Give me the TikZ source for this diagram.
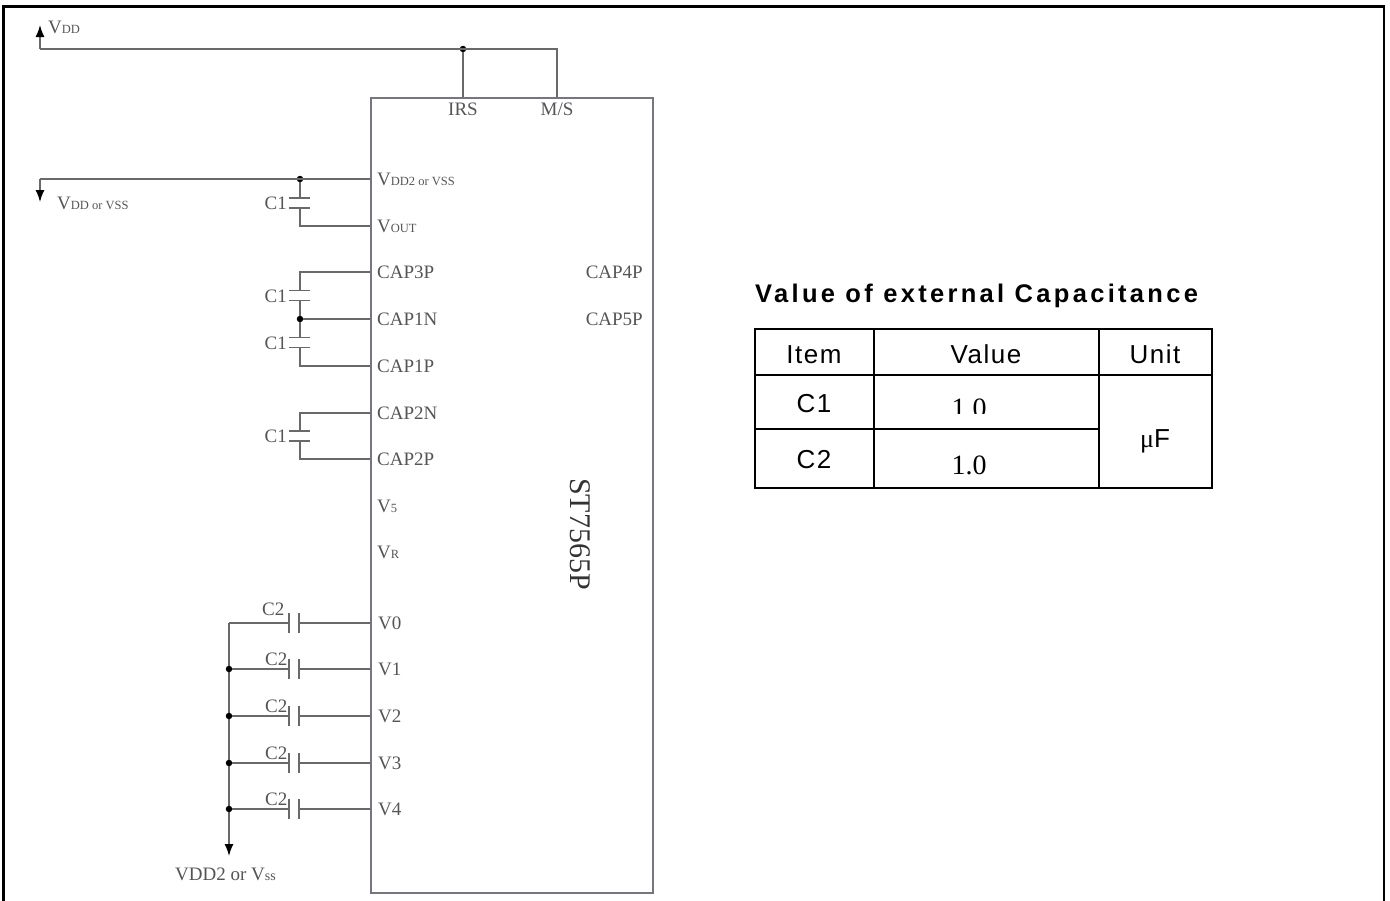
\documentclass[tikz,border=0pt]{standalone}
\usepackage{fontspec}
\setmainfont{Liberation Serif}
\newfontfamily\tabf[LetterSpace=6]{Liberation Sans}
\newfontfamily\titf[LetterSpace=13]{Liberation Sans}
\usetikzlibrary{arrows.meta}
\definecolor{wirec}{RGB}{105,105,105}
\definecolor{chipc}{RGB}{118,118,128}
\definecolor{lblc}{RGB}{85,85,85}
\newcommand\pinfont{\fontsize{19}{22}\selectfont}
\newcommand\smf[1]{{\fontsize{12.5}{14}\selectfont #1}}
\begin{document}
\begin{tikzpicture}[x=1pt,y=-1pt,
  wire/.style={draw=wirec,line width=1.5pt},
  plate/.style={draw=wirec,line width=1.8pt},
  pinl/.style={anchor=base west,text=lblc,font=\pinfont,inner sep=0pt},
  pinr/.style={anchor=base east,text=lblc,font=\pinfont,inner sep=0pt},
  dotn/.style={circle,fill=black,inner sep=0pt,minimum size=6.5pt},
  arr/.style={wire,-{Latex[length=12pt,width=9pt,color=black]}},
  tline/.style={draw=black,line width=2.5pt},
  tt/.style={anchor=base,inner sep=0pt,font=\tabf\fontsize{26}{28}\selectfont},
]
\useasboundingbox (0,0) rectangle (1390,900);
% outer frame (open at the bottom)
\draw[line width=2.5pt,line cap=rect] (3.5,910) -- (3.5,6.5) -- (1384,6.5) -- (1384,910);

% chip
\node (chip) [draw=chipc,line width=1.8pt,minimum width=282pt,minimum height=795pt,
  inner sep=0pt,anchor=north west] at (370,97) {};
\node (st) [rotate=-90,font=\fontsize{30}{32}\selectfont,text=black!80] at (580,534) {ST7565P};

% pin coordinates
\coordinate (pIRS) at (463,97);
\coordinate (pMS) at (557,97);
\foreach \n/\y in {vdd2/179,vout/226,cap3p/272,cap1n/319,cap1p/366,cap2n/413,cap2p/459,
                   v5/506,vr/552,v0/623,v1/669,v2/716,v3/763,v4/809}
  \coordinate (p\n) at (370,\y);

% pin labels
\node (lIRS) [anchor=base,text=lblc,font=\pinfont,inner sep=0pt] at (463,115) {IRS};
\node (lMS)  [anchor=base,text=lblc,font=\pinfont,inner sep=0pt] at (557,115) {M/S};
\node (lvdd2) [pinl] at (377,185.5) {V\smf{DD2 or VSS}};
\node (lvout) [pinl] at (377,232.5) {V\smf{OUT}};
\node (lc3p) [pinl] at (377,278.5) {CAP3P};
\node (lc1n) [pinl] at (377,325.5) {CAP1N};
\node (lc1p) [pinl] at (377,372.5) {CAP1P};
\node (lc2n) [pinl] at (377,419.5) {CAP2N};
\node (lc2p) [pinl] at (377,465.5) {CAP2P};
\node (lv5) [pinl] at (377,512.5) {V\smf{5}};
\node (lvr) [pinl] at (377,558.5) {V\smf{R}};
\node (lv0) [pinl] at (378,629.5) {V0};
\node (lv1) [pinl] at (378,675.5) {V1};
\node (lv2) [pinl] at (378,722.5) {V2};
\node (lv3) [pinl] at (378,769.5) {V3};
\node (lv4) [pinl] at (378,815.5) {V4};
\node (lc4p) [pinr] at (643,278.5) {CAP4P};
\node (lc5p) [pinr] at (643,325.5) {CAP5P};

% ---- VDD at top
\coordinate (vddtip) at (40,25);
\coordinate (vddc) at (40,49);
\node (j1) [dotn] at (463,49) {};
\draw[wire] (pMS) |- (vddc);
\draw[arr] (vddc) -- (vddtip);
\draw[wire] (pIRS) -- (j1);
\node (lvdd) [anchor=base west,text=lblc,font=\pinfont,inner sep=0pt] at (48,33) {V\smf{DD}};

% ---- VDD2 / VSS and VOUT
\coordinate (gtip) at (40,202);
\coordinate (gc) at (40,179);
\node (j2) [dotn] at (300,179) {};
\draw[wire] (pvdd2) -- (gc);
\draw[arr] (gc) -- (gtip);
\node (lgnd) [anchor=base west,text=lblc,font=\pinfont,inner sep=0pt] at (57,209) {V\smf{DD or VSS}};
% capacitor C1 (a)
\coordinate (ca1) at (300,198); \coordinate (ca2) at (300,208);
\draw[wire] (j2) -- (ca1);
\draw[plate] (289,198) -- (310,198);
\draw[plate] (289,208) -- (310,208);
\draw[wire] (ca2) |- (pvout);
\node (lca) [pinr] at (287,209.5) {C1};

% capacitor C1 (b) CAP3P-CAP1N
\coordinate (cb1) at (300,290.5); \coordinate (cb2) at (300,300.5);
\node (j3) [dotn] at (300,319) {};
\draw[wire] (pcap3p) -| (cb1);
\draw[plate] (289,290.5) -- (310,290.5);
\draw[plate] (289,300.5) -- (310,300.5);
\draw[wire] (cb2) -- (j3);
\draw[wire] (pcap1n) -- (j3);
\node (lcb) [pinr] at (287,302) {C1};

% capacitor C1 (c) CAP1N-CAP1P
\coordinate (cc1) at (300,337.5); \coordinate (cc2) at (300,347.5);
\draw[wire] (j3) -- (cc1);
\draw[plate] (289,337.5) -- (310,337.5);
\draw[plate] (289,347.5) -- (310,347.5);
\draw[wire] (cc2) |- (pcap1p);
\node (lcc) [pinr] at (287,349) {C1};

% capacitor C1 (d) CAP2N-CAP2P
\coordinate (cd1) at (300,431); \coordinate (cd2) at (300,441);
\draw[wire] (pcap2n) -| (cd1);
\draw[plate] (289,431) -- (310,431);
\draw[plate] (289,441) -- (310,441);
\draw[wire] (cd2) |- (pcap2p);
\node (lcd) [pinr] at (287,442.5) {C1};

% ---- C2 capacitors to VDD2 or Vss
\coordinate (btop) at (229,623);
\coordinate (btip) at (229,856);
\draw[arr] (btop) -- (btip);
\draw[wire] (pv0) -- (299,623);
\draw[plate] (299,613) -- (299,633);
\draw[plate] (289,613) -- (289,633);
\draw[wire] (289,623) -- (btop);
\node (lc20) [anchor=base west,text=lblc,font=\pinfont,inner sep=0pt] at (262,615) {C2};
\foreach \k/\y in {1/669,2/716,3/763,4/809}{
  \node (jb\k) [dotn] at (229,\y) {};
  \draw[wire] (pv\k) -- (299,\y);
  \draw[plate] (299,\y-10) -- (299,\y+10);
  \draw[plate] (289,\y-10) -- (289,\y+10);
  \draw[wire] (289,\y) -- (jb\k);
  \node (lc2\k) [anchor=base west,text=lblc,font=\pinfont,inner sep=0pt] at (265,\y-4) {C2};
}
\node (lbot) [anchor=base west,text=lblc,font=\pinfont,inner sep=0pt] at (175,880) {VDD2 or V{\fontsize{14}{16}\selectfont ss}};

% ---- table
\node (title) [anchor=base west,inner sep=0pt,font=\titf\bfseries\fontsize{25.5}{28}\selectfont] at (755,302) {Value of external Capacitance};
\draw[tline] (755,329) rectangle (1212,488);
\draw[tline] (874,329) -- (874,488);
\draw[tline] (1099,329) -- (1099,488);
\draw[tline] (755,375) -- (1212,375);
\draw[tline] (755,429) -- (1099,429);
\node (hitem) [tt] at (814,363) {Item};
\node (hval) [tt] at (986,363) {Value};
\node (hunit) [tt] at (1155,363) {Unit};
\node (rc1) [tt] at (814,412) {C1};
\node (rc2) [tt] at (814,468) {C2};
\begin{scope}
  \clip (880,380) rectangle (1095,413);
  \node (v1v) [anchor=base,inner sep=0pt,font=\fontsize{28}{30}\selectfont] at (969,417) {1.0};
\end{scope}
\node (v2v) [anchor=base,inner sep=0pt,font=\fontsize{28}{30}\selectfont] at (969,474) {1.0};
\node (uf) [anchor=base,inner sep=0pt] at (1155,447) {{\fontsize{26}{28}\selectfont μ}\tabf\fontsize{26}{28}\selectfont F};
\end{tikzpicture}
\end{document}
